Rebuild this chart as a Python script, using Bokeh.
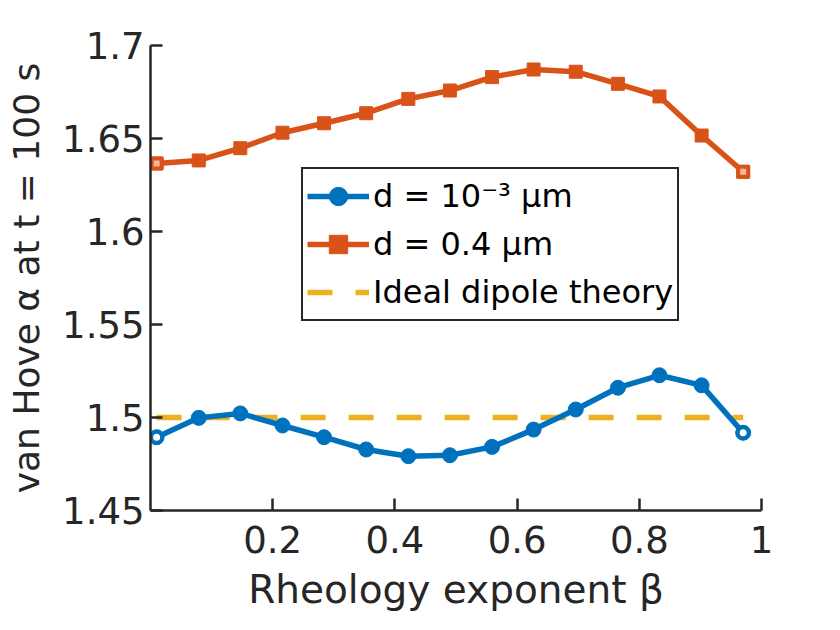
from bokeh.plotting import figure
from bokeh.models import Range1d, FixedTicker, Legend, LegendItem, ColumnDataSource
from bokeh.embed import file_html
from bokeh.resources import INLINE

# ---- data ----
beta = [0.01, 0.079, 0.147, 0.216, 0.284, 0.353, 0.422, 0.490,
        0.559, 0.627, 0.696, 0.765, 0.833, 0.902, 0.970]
alpha_small = [1.4894, 1.4998, 1.5022, 1.4957, 1.4894, 1.4828, 1.4792, 1.4797,
               1.4842, 1.4935, 1.5043, 1.5160, 1.5227, 1.5173, 1.4918]
alpha_large = [1.6366, 1.6382, 1.6448, 1.6531, 1.6582, 1.6636, 1.6713, 1.6758,
               1.6830, 1.6871, 1.6859, 1.6794, 1.6726, 1.6516, 1.6321]
ideal_alpha = 1.5
label_small = "d = 10\u207b\u00b3 \u03bcm"
label_large = "d = 0.4 \u03bcm"
label_ideal = "Ideal dipole theory"
x_ticks = [0.2, 0.4, 0.6, 0.8, 1.0]
x_tick_labels = ["0.2", "0.4", "0.6", "0.8", "1"]
y_ticks = [1.45, 1.5, 1.55, 1.6, 1.65, 1.7]
y_tick_labels = ["1.45", "1.5", "1.55", "1.6", "1.65", "1.7"]

BLUE = "#0072BD"
ORANGE = "#D95319"
YELLOW = "#EDB120"
AX = "#262626"
FONT = "DejaVu Sans"

p = figure(width=820, height=622, output_backend="svg", toolbar_location=None,
           x_range=Range1d(0.0, 1.0), y_range=Range1d(1.45, 1.7),
           min_border_left=150, min_border_right=59,
           min_border_top=45, min_border_bottom=112)
p.outline_line_color = None
p.grid.visible = False
p.background_fill_color = "white"
p.border_fill_color = "white"

src = ColumnDataSource(dict(x=beta, a=alpha_small, b=alpha_large))
ends = ColumnDataSource(dict(x=[beta[0], beta[-1]],
                             a=[alpha_small[0], alpha_small[-1]],
                             b=[alpha_large[0], alpha_large[-1]]))
ideal_src = ColumnDataSource(dict(x=[min(beta), max(beta)], y=[ideal_alpha, ideal_alpha]))

# ideal dipole (drawn first, under blue)
r_ideal = p.line("x", "y", source=ideal_src, line_color=YELLOW, line_width=5.5,
                 line_dash="25 23")

# blue
r_bl = p.line("x", "a", source=src, line_color=BLUE, line_width=5.5)
r_bs = p.scatter("x", "a", source=src, marker="circle", size=15,
                 fill_color=BLUE, line_color=BLUE, line_width=1)
p.scatter("x", "a", source=ends, marker="circle", size=11,
          fill_color="white", line_color=BLUE, line_width=4)

# orange
r_ol = p.line("x", "b", source=src, line_color=ORANGE, line_width=5.5)
r_os = p.scatter("x", "b", source=src, marker="square", size=13,
                 fill_color=ORANGE, line_color=ORANGE, line_width=1)
p.scatter("x", "b", source=ends, marker="square", size=10,
          fill_color="#F2B9A0", line_color=ORANGE, line_width=4)

# axes
p.xaxis.ticker = FixedTicker(ticks=x_ticks)
p.yaxis.ticker = FixedTicker(ticks=y_ticks)
p.xaxis.major_label_overrides = {t: l for t, l in zip(x_ticks, x_tick_labels)}
p.yaxis.major_label_overrides = {t: l for t, l in zip(y_ticks, y_tick_labels)}
for ax in (p.xaxis[0], p.yaxis[0]):
    ax.axis_line_color = AX
    ax.axis_line_width = 2.5
    ax.major_tick_line_color = AX
    ax.major_tick_line_width = 2.5
    ax.major_tick_in = 12
    ax.major_tick_out = 0
    ax.minor_tick_line_color = None
    ax.major_label_text_font = FONT
    ax.major_label_text_font_size = "37px"
    ax.major_label_text_color = AX
    ax.axis_label_text_font = FONT
    ax.axis_label_text_font_style = "normal"
    ax.axis_label_text_color = AX
p.xaxis.axis_label_text_font_size = "39px"
p.yaxis.axis_label_text_font_size = "36px"
p.xaxis.axis_label = "Rheology exponent \u03b2"
p.yaxis.axis_label = "van Hove \u03b1 at t = 100 s"
p.xaxis.major_label_standoff = 15
p.yaxis.major_label_standoff = 6
p.xaxis.axis_label_standoff = 11
p.yaxis.axis_label_standoff = 12

legend = Legend(items=[
    LegendItem(label=label_small, renderers=[r_bl, r_bs]),
    LegendItem(label=label_large, renderers=[r_ol, r_os]),
    LegendItem(label=label_ideal, renderers=[r_ideal]),
], location=(151, 189))
legend.border_line_color = "#262626"
legend.border_line_alpha = 1.0
legend.border_line_width = 2.5
legend.background_fill_color = "white"
legend.background_fill_alpha = 1.0
legend.label_text_font = FONT
legend.label_text_font_size = "32px"
legend.label_text_color = "#000000"
legend.glyph_width = 62
legend.glyph_height = 46
legend.label_height = 46
legend.label_standoff = 4
legend.spacing = 2
legend.padding = 4
legend.margin = 0
p.add_layout(legend, "center")

open("out.html", "w").write(file_html(p, INLINE))
